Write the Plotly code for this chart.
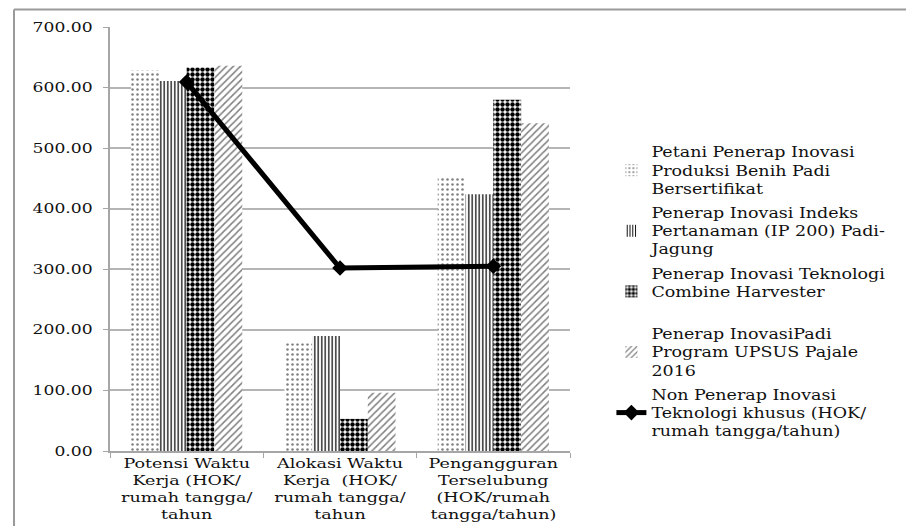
import plotly.graph_objects as go

# Categories (x axis) and series values (HOK / rumah tangga / tahun)
categories = [
    "Potensi Waktu<br>Kerja (HOK/<br>rumah tangga/<br>tahun",
    "Alokasi Waktu<br>Kerja\u00a0 (HOK/<br>rumah tangga/<br>tahun",
    "Pengangguran<br>Terselubung<br>(HOK/rumah<br>tangga/tahun)",
]

benih_padi = [628.0, 178.0, 451.0]
ip200 = [611.0, 190.0, 424.0]
combine = [633.0, 53.0, 580.0]
upsus = [636.0, 96.0, 541.0]
non_penerap = [609.0, 302.0, 305.0]

series_names = [
    "Petani Penerap Inovasi<br>Produksi Benih Padi<br>Bersertifikat",
    "Penerap Inovasi Indeks<br>Pertanaman (IP 200) Padi-<br>Jagung",
    "Penerap Inovasi Teknologi<br>Combine Harvester<br> ",
    "Penerap InovasiPadi<br>Program UPSUS Pajale<br>2016",
    "Non Penerap Inovasi<br>Teknologi khusus (HOK/<br>rumah tangga/tahun)",
]

FONT = "DejaVu Serif"

fig = go.Figure()

bar_styles = [
    dict(shape=".", size=5, solidity=0.2, fgcolor="#808080"),
    dict(shape="|", size=3.5, solidity=0.35, fgcolor="#000000"),
    dict(shape=".", size=5, solidity=0.62, fgcolor="#000000"),
    dict(shape="/", size=5, solidity=0.3, fgcolor="#808080"),
]

for name, vals, pat in zip(series_names[:4], [benih_padi, ip200, combine, upsus], bar_styles):
    fig.add_trace(go.Bar(
        x=categories, y=vals, name=name,
        legendgroup=name,
        marker=dict(color="white", line=dict(width=0),
                    pattern=dict(bgcolor="white", fillmode="replace", **pat)),
    ))

fig.add_trace(go.Scatter(
    x=categories, y=non_penerap, name=series_names[4],
    legendgroup=series_names[4],
    mode="lines+markers",
    line=dict(color="black", width=5),
    marker=dict(symbol="diamond", size=12, color="black"),
))

fig.update_layout(
    width=906, height=526,
    margin=dict(l=110, r=336, t=27, b=75),
    paper_bgcolor="white", plot_bgcolor="white",
    font=dict(family=FONT, size=13, color="#111"),
    barmode="group",
    bargap=0.275, bargroupgap=0,
    showlegend=True,
    legend=dict(
        x=1.09, xanchor="left", y=0.742, yanchor="top",
        font=dict(family=FONT, size=14, color="#111"),
        tracegroupgap=3,
        itemwidth=30,
        bgcolor="rgba(0,0,0,0)",
    ),
    xaxis=dict(
        type="category", automargin=False,
        showline=True, linecolor="#a6a6a6", linewidth=1.5,
        ticks="outside", ticklen=5, tickcolor="#a6a6a6", tickson="boundaries",
        showgrid=False,
        tickfont=dict(family=FONT, size=13, color="#111"),
    ),
    yaxis=dict(
        range=[0, 700], dtick=100, tickformat=".2f", automargin=False,
        showline=True, linecolor="#a6a6a6", linewidth=1.5,
        ticks="outside", ticklen=5, tickcolor="#a6a6a6",
        showgrid=True, gridcolor="#b5b5b5", gridwidth=1.5,
        zeroline=False,
        ticklabelstandoff=8,
        tickfont=dict(family=FONT, size=13, color="#111"),
    ),
    shapes=[
        # outer chart frame (top and left edges)
        dict(type="line", xref="paper", yref="paper",
             x0=-0.2087, x1=1.75, y0=1.0413, y1=1.0413,
             line=dict(color="#9a9a9a", width=2)),
        dict(type="line", xref="paper", yref="paper",
             x0=-0.2087, x1=-0.2087, y0=1.0413, y1=-0.2,
             line=dict(color="#9a9a9a", width=2)),
    ],
)

# Widen the serif lettering horizontally (each label scaled about its own anchor)
stretch_js = """
var gd = document.getElementById('{plot_id}');
gd.querySelectorAll('.legend [clip-path]').forEach(function (e) {
  e.removeAttribute('clip-path');
});
var groups = [['.xtick text', 1.35], ['.ytick text', 1.32], ['.legendtext', 1.25]];
groups.forEach(function (g) {
  gd.querySelectorAll(g[0]).forEach(function (t) {
    var base = t.getAttribute('transform') || '';
    var x = parseFloat(t.getAttribute('x')) || 0;
    t.setAttribute('transform', base + ' translate(' + x + ',0) scale(' + g[1] + ',1) translate(' + (-x) + ',0)');
  });
});
"""

fig.write_html("out.html", post_script=stretch_js)
